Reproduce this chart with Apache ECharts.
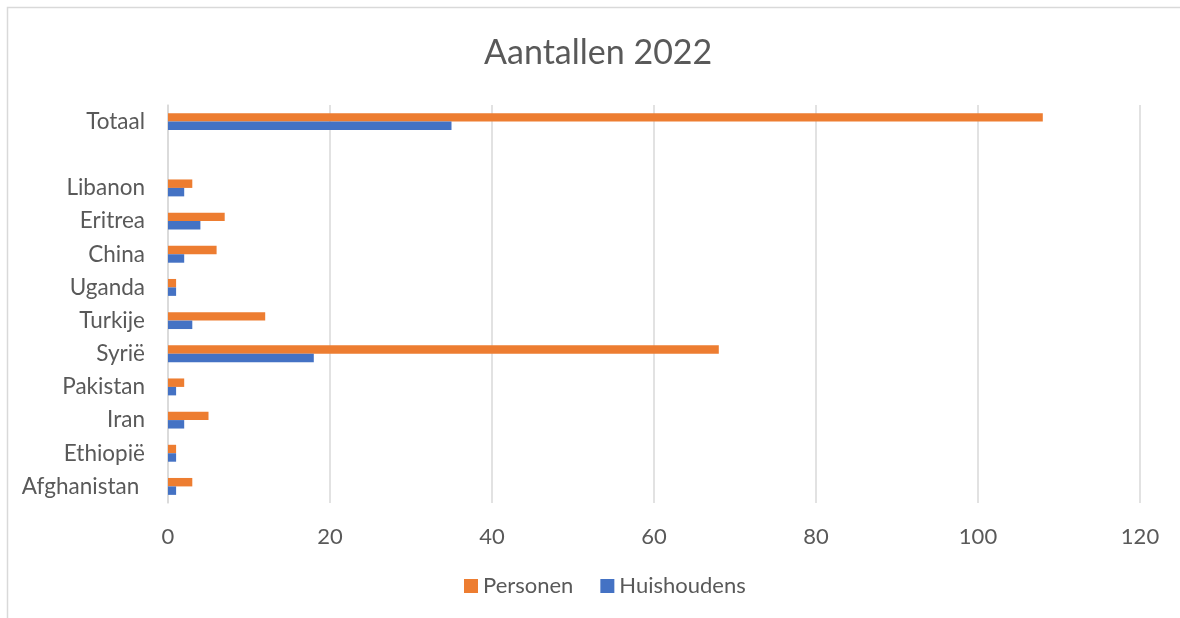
<!DOCTYPE html>
<html>
<head>
<meta charset="utf-8">
<script src="https://cdn.jsdelivr.net/npm/echarts@6/dist/echarts.min.js"></script>
<style>
html,body{margin:0;padding:0;background:#fff;}
#chart{width:1180px;height:618px;}
</style>
</head>
<body>
<div id="chart"></div>
<script>
const categories = ['Afghanistan ', 'Ethiopië', 'Iran', 'Pakistan', 'Syrië', 'Turkije', 'Uganda', 'China', 'Eritrea', 'Libanon', '', 'Totaal'];
const personen = [3, 1, 5, 2, 68, 12, 1, 6, 7, 3, null, 108];
const huishoudens = [1, 1, 2, 1, 18, 3, 1, 2, 4, 2, null, 35];
const seriesNames = ['Personen', 'Huishoudens'];
const xTicks = { min: 0, max: 120, interval: 20 };

const FONT = 'Lato, "Open Sans", sans-serif';
const chart = echarts.init(document.getElementById('chart'), null, { renderer: 'canvas' });
chart.setOption({
  animation: false,
  backgroundColor: '#ffffff',
  textStyle: { fontFamily: FONT },
  title: {
    text: 'Aantallen 2022',
    left: 479,
    top: 31,
    textStyle: { fontFamily: FONT, fontSize: 34, fontWeight: 'normal', color: '#595959' }
  },
  graphic: [{
    type: 'rect',
    shape: { x: 7.5, y: 7.5, width: 1200, height: 640 },
    style: { fill: 'none', stroke: '#D9D9D9', lineWidth: 1.5 },
    silent: true
  }],
  legend: {
    data: seriesNames,
    bottom: 16,
    left: 459,
    itemWidth: 14,
    itemHeight: 14,
    itemGap: 27,
    icon: 'rect',
    textStyle: { fontFamily: FONT, fontSize: 22, color: '#595959' }
  },
  grid: { left: 168, right: 40, top: 105, bottom: 115, containLabel: false },
  xAxis: {
    type: 'value',
    min: xTicks.min, max: xTicks.max, interval: xTicks.interval,
    axisLine: { show: false },
    axisTick: { show: false },
    splitLine: { show: true, lineStyle: { color: '#D9D9D9', width: 1.5 } },
    axisLabel: { fontFamily: FONT, fontSize: 22, color: '#595959', margin: 23 }
  },
  yAxis: {
    type: 'category',
    data: categories,
    axisLine: { show: true, lineStyle: { color: '#D9D9D9', width: 1.5 } },
    axisTick: { show: false },
    splitLine: { show: false },
    axisLabel: { fontFamily: FONT, fontSize: 22.5, color: '#595959', margin: 23 }
  },
  series: [
    {
      name: seriesNames[0], type: 'bar', data: personen,
      itemStyle: { color: '#ED7D31' },
      barGap: '0%', barCategoryGap: '49%'
    },
    {
      name: seriesNames[1], type: 'bar', data: huishoudens,
      itemStyle: { color: '#4472C4' },
      barGap: '0%', barCategoryGap: '49%'
    }
  ]
});
</script>
</body>
</html>
